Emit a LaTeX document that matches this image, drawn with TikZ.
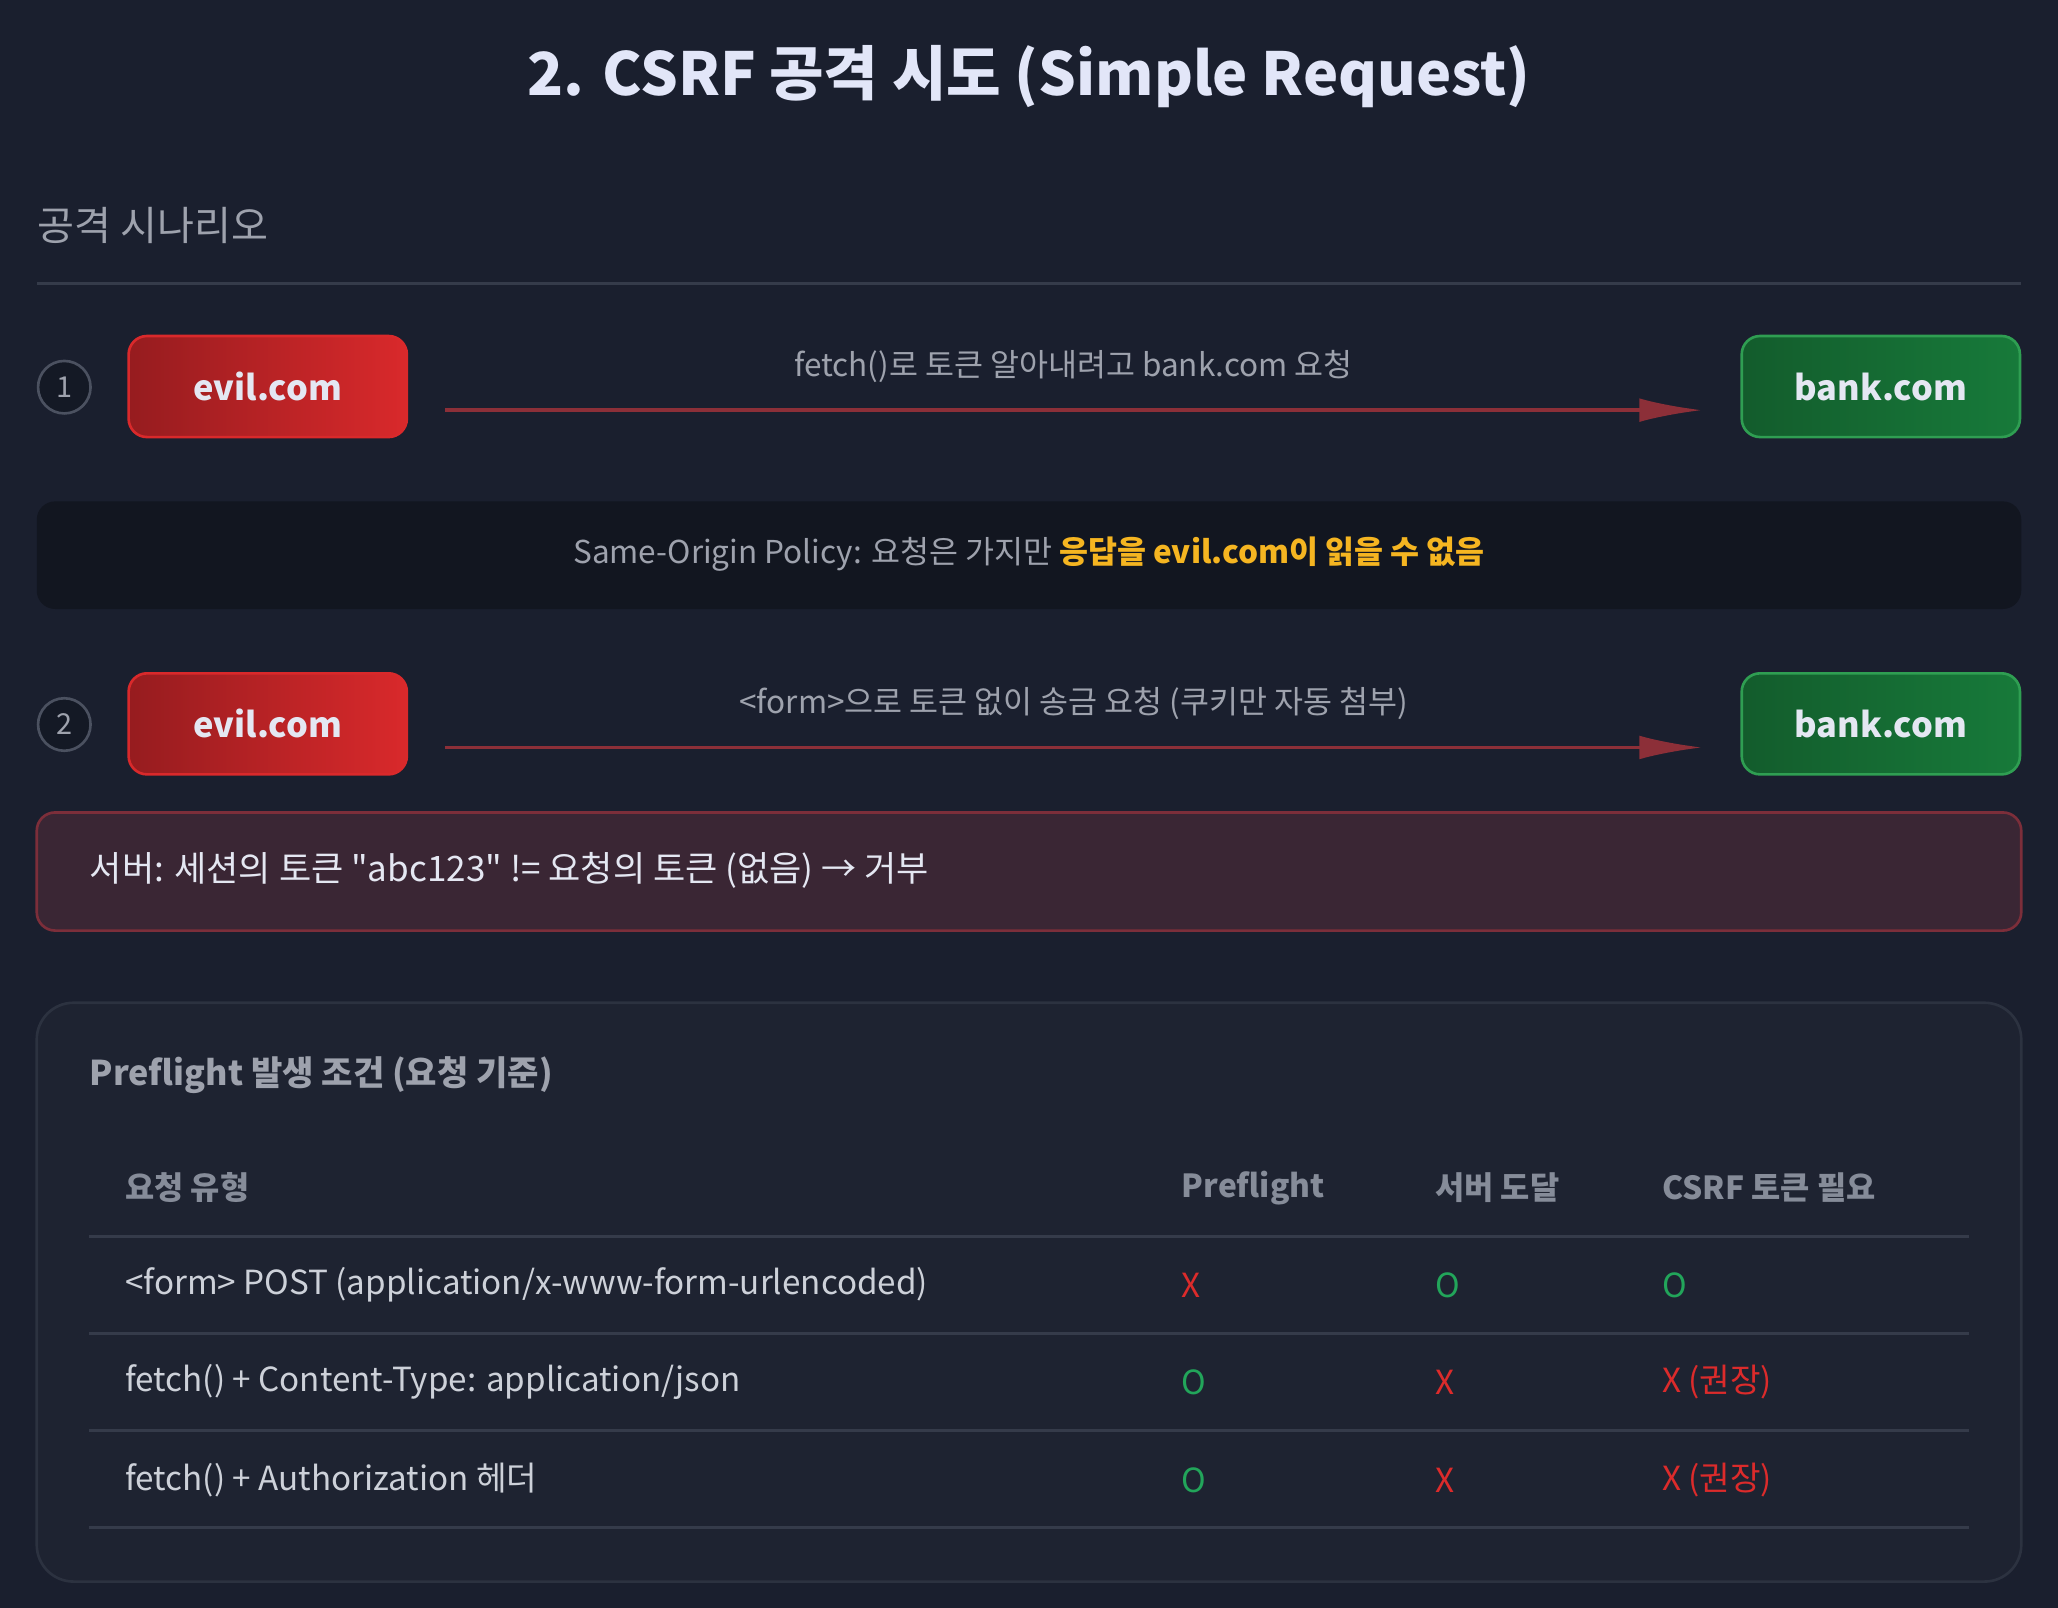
\documentclass[tikz,border=0pt]{standalone}
\usepackage{fontspec}
\setmainfont{Noto Sans CJK KR}[Ligatures=TeXOff]
\usetikzlibrary{positioning,arrows.meta}

\definecolor{bg}{HTML}{1A1F2E}
\definecolor{title}{HTML}{E2E6F8}
\definecolor{evilA}{HTML}{961C1F}
\definecolor{evilB}{HTML}{D9292B}
\definecolor{bankA}{HTML}{135C2C}
\definecolor{bankB}{HTML}{177A3A}
\definecolor{bankedge}{HTML}{2F9E52}
\definecolor{arrowred}{HTML}{8C2F38}
\definecolor{txtgray}{HTML}{9EA2AD}
\definecolor{txtlight}{HTML}{E4E7F2}
\definecolor{rowtxt}{HTML}{CDD1D9}
\definecolor{headgray}{HTML}{868C99}
\definecolor{rulegray}{HTML}{353B4A}
\definecolor{circfill}{HTML}{141925}
\definecolor{circedge}{HTML}{4B5160}
\definecolor{sopfill}{HTML}{121620}
\definecolor{warn}{HTML}{F5B521}
\definecolor{rejfill}{HTML}{3A2634}
\definecolor{rejedge}{HTML}{7C2E3A}
\definecolor{panelfill}{HTML}{1E2331}
\definecolor{paneledge}{HTML}{2C3240}
\definecolor{okgreen}{HTML}{22A55A}
\definecolor{nored}{HTML}{DC2B2B}

\tikzstyle{site} = [rectangle, rounded corners=7pt, minimum width=106pt, minimum height=38.5pt, text=txtlight, font=\fontsize{13.1}{16}\selectfont\bfseries, line width=1pt]
\tikzstyle{evil} = [site, draw=evilB, left color=evilA, right color=evilB]
\tikzstyle{bank} = [site, draw=bankedge, left color=bankA, right color=bankB]
\tikzstyle{stepnum} = [circle, draw=circedge, fill=circfill, line width=1pt, minimum size=20pt, inner sep=0pt, text=txtgray, font=\fontsize{11}{13}\selectfont]
\tikzstyle{arrow} = [draw=arrowred, line width=1.5pt, -{Latex[length=24pt,width=9pt]}]
\tikzstyle{arrowlabel} = [text=txtgray, font=\fontsize{12}{15}\selectfont]
\tikzstyle{head} = [anchor=west, inner sep=0pt, text=headgray, font=\fontsize{12.1}{15}\selectfont\bfseries]
\tikzstyle{cell} = [anchor=west, inner sep=0pt, text=rowtxt, font=\fontsize{12.65}{15}\selectfont]
\tikzstyle{yes} = [cell, text=okgreen]
\tikzstyle{no} = [cell, text=nored]
\tikzstyle{rule} = [draw=rulegray, line width=1.2pt]

\begin{document}
\begin{tikzpicture}[x=0.5pt, y=-0.5pt]
	\fill [bg] (0,0) rectangle (1568,1225);
	\useasboundingbox (0,0) rectangle (1568,1225);

	\node [text=title, font=\fontsize{22.6}{26}\selectfont\bfseries] (title) at (784,58) {2. CSRF 공격 시도 (Simple Request)};
	\node [anchor=west, text=txtgray, font=\fontsize{15.3}{18}\selectfont, inner sep=0pt] (scenario) at (28,172) {공격 시나리오};
	\draw [rule] (28,216) -- (1540,216);

	% step 1
	\node [stepnum] (num1) at (49,295) {1};
	\node [evil] (evil1) at (204,294.5) {evil.com};
	\node [bank] (bank1) at (1433,294.5) {bank.com};
	\draw [arrow] ([shift={(28,18)}]evil1.east) -- ([shift={(-29,18)}]bank1.west) node [arrowlabel, midway, above=6.5pt] (lbl1) {fetch()로 토큰 알아내려고 bank.com 요청};

	\fill [sopfill, rounded corners=7pt] (28,382) rectangle (1540,464);
	\node [text=txtgray, font=\fontsize{12}{15}\selectfont] (sop) at (784,422) {Same-Origin Policy: 요청은 가지만 \textcolor{warn}{\bfseries 응답을 evil.com이 읽을 수 없음}};

	% step 2
	\node [stepnum] (num2) at (49,552) {2};
	\node [evil] (evil2) at (204,551.5) {evil.com};
	\node [bank] (bank2) at (1433,551.5) {bank.com};
	\draw [arrow] ([shift={(28,18)}]evil2.east) -- ([shift={(-29,18)}]bank2.west) node [arrowlabel, midway, above=6.5pt] (lbl2) {<form>으로 토큰 없이 송금 요청 (쿠키만 자동 첨부)};

	\filldraw [fill=rejfill, draw=rejedge, line width=1pt, rounded corners=7pt] (28,619) rectangle (1540,709);
	\node [anchor=west, text=txtlight, font=\fontsize{13.35}{17}\selectfont, inner sep=0pt] (reject) at (68,663) {서버: 세션의 토큰 "abc123" != 요청의 토큰 (없음) → 거부};

	% preflight table
	\filldraw [fill=panelfill, draw=paneledge, line width=1pt, rounded corners=14pt] (28,764) rectangle (1540,1205);
	\node [anchor=west, text=txtgray, font=\fontsize{13}{16}\selectfont\bfseries, inner sep=0pt] (tabtitle) at (68,819) {Preflight 발생 조건 (요청 기준)};

	\node [head] (h1) at (95,905) {요청 유형};
	\node [head] (h2) at (900,905) {Preflight};
	\node [head] (h3) at (1093,905) {서버 도달};
	\node [head] (h4) at (1266,905) {CSRF 토큰 필요};
	\draw [rule] (68,942) -- (1500,942);

	\node [cell] (r1c1) at (95,979) {<form> POST (application/x-www-form-urlencoded)};
	\node [no] (r1c2) at (900,979) {X};
	\node [yes] (r1c3) at (1093,979) {O};
	\node [yes] (r1c4) at (1266,979) {O};
	\draw [rule] (68,1016) -- (1500,1016);

	\node [cell] (r2c1) at (95,1053) {fetch() + Content-Type: application/json};
	\node [yes] (r2c2) at (900,1053) {O};
	\node [no] (r2c3) at (1093,1053) {X};
	\node [no] (r2c4) at (1266,1053) {X (권장)};
	\draw [rule] (68,1090) -- (1500,1090);

	\node [cell] (r3c1) at (95,1128) {fetch() + Authorization 헤더};
	\node [yes] (r3c2) at (900,1128) {O};
	\node [no] (r3c3) at (1093,1128) {X};
	\node [no] (r3c4) at (1266,1128) {X (권장)};
	\draw [rule] (68,1164) -- (1500,1164);
\end{tikzpicture}
\end{document}
